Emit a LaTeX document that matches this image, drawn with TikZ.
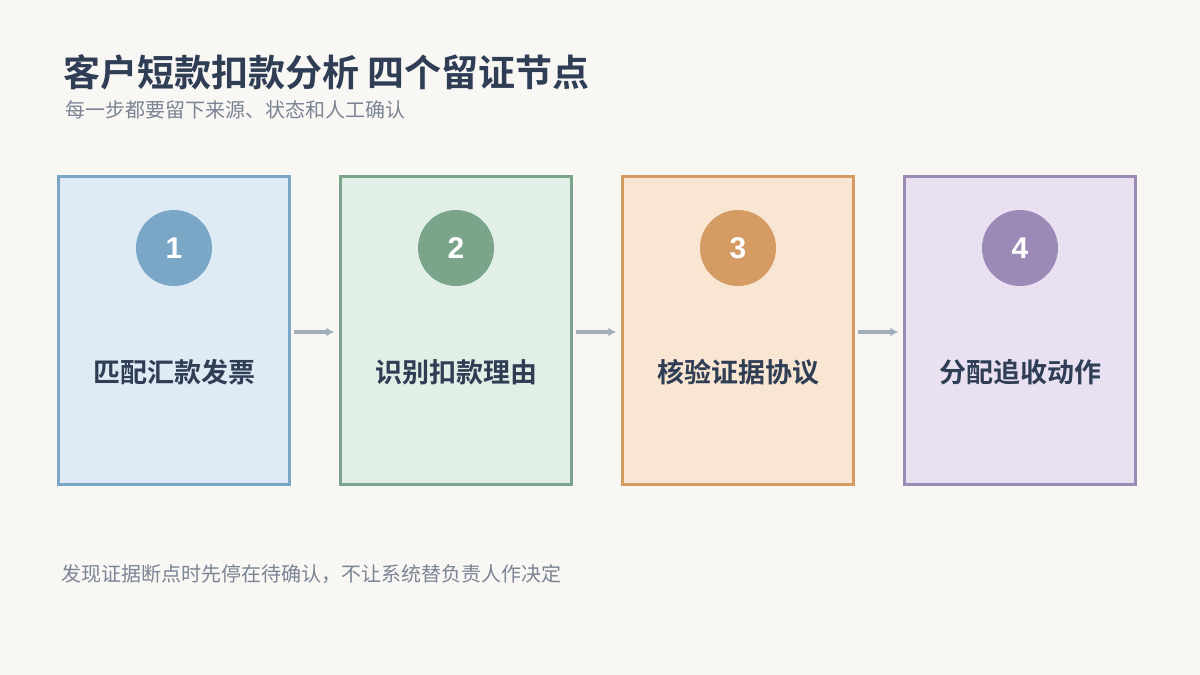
\documentclass[tikz,border=0pt]{standalone}
\usepackage{fontspec}
\setmainfont{Liberation Sans}
\newfontfamily\cjk{Noto Sans CJK SC}
\newfontfamily\cjkb{Noto Sans CJK SC Bold}
\definecolor{bg}{HTML}{F8F7F4}
\definecolor{titlec}{HTML}{2F3E55}
\definecolor{subc}{HTML}{7B8494}
\definecolor{arrc}{HTML}{A3AEBB}
\definecolor{fA}{HTML}{DEEAF4}\definecolor{sA}{HTML}{7BA7C7}
\definecolor{fB}{HTML}{E1EFE6}\definecolor{sB}{HTML}{7AA58A}
\definecolor{fC}{HTML}{F8E6D2}\definecolor{sC}{HTML}{D49C63}
\definecolor{fD}{HTML}{E9E1F2}\definecolor{sD}{HTML}{9C8AB6}
\tikzset{
  card/.style={draw=#1, line width=2.5pt, minimum width=231pt, minimum height=308pt, inner sep=0pt},
  badge/.style={circle, fill=#1, minimum size=76pt, inner sep=0pt, text=white, font=\fontsize{30}{32}\selectfont\bfseries},
  cardlabel/.style={text=titlec, font=\cjkb\fontsize{27}{31}\selectfont},
  flow/.style={draw=arrc, line width=3.5pt, -{Latex[length=8pt,width=9pt]}},
}
\usetikzlibrary{arrows.meta}
\begin{document}
\begin{tikzpicture}[x=1pt,y=-1pt]
\fill[bg] (0,0) rectangle (1200,675);
\useasboundingbox (0,0) rectangle (1200,675);
\node[anchor=west, text=titlec, font=\cjkb\fontsize{37}{42}\selectfont, inner sep=0pt] (title) at (63,72) {客户短款扣款分析 四个留证节点};
\node[anchor=west, text=subc, font=\cjk\fontsize{20}{23}\selectfont, inner sep=0pt] (sub) at (65,110) {每一步都要留下来源、状态和人工确认};
\foreach \i/\fc/\sc/\n/\t in {0/fA/sA/1/匹配汇款发票, 1/fB/sB/2/识别扣款理由, 2/fC/sC/3/核验证据协议, 3/fD/sD/4/分配追收动作}{
  \node[card=\sc, fill=\fc] (card\n) at (174+282*\i,330.5) {};
  \node[badge=\sc] (badge\n) at (174+282*\i,248) {\n};
  \node[cardlabel] (label\n) at (174+282*\i,372) {\t};
}
\foreach \a/\b in {1/2,2/3,3/4}{
  \draw[flow] ([xshift=3pt,yshift=-1.5pt]card\a.east) -- ([xshift=-5pt,yshift=-1.5pt]card\b.west);
}
\node[anchor=west, text=subc, font=\cjk\fontsize{20}{23}\selectfont, inner sep=0pt] (foot) at (61,574) {发现证据断点时先停在待确认，不让系统替负责人作决定};
\end{tikzpicture}
\end{document}
